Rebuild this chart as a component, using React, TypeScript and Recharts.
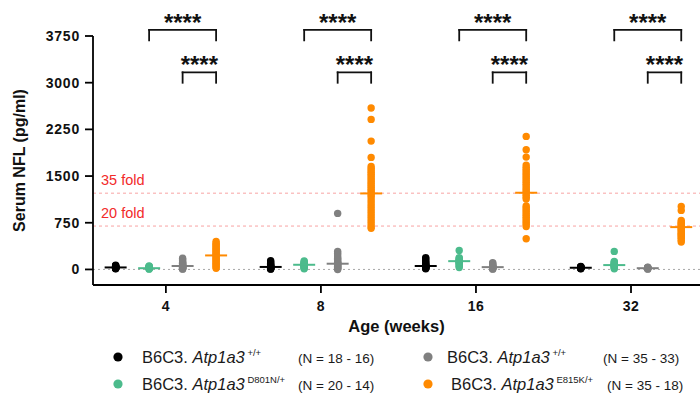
import React from 'react';
import { ComposedChart, Scatter, XAxis, YAxis, ReferenceLine, ReferenceDot, Legend } from 'recharts';

// ---------- data ----------
const AGES = ['4', '8', '16', '32'];
const Y_TICKS = [0, 750, 1500, 2250, 3000, 3750];

// values per age (4, 8, 16, 32 weeks)
const WT_D801N_VALUES = [
  [10, 15, 20, 22, 25, 28, 30, 32, 35, 38, 40, 45, 50, 55, 60, 70],
  [5, 10, 15, 20, 25, 30, 35, 40, 45, 50, 60, 70, 85, 100, 120, 140],
  [10, 20, 25, 30, 35, 40, 45, 50, 55, 60, 70, 80, 95, 110, 130, 150, 170, 190],
  [10, 15, 20, 22, 25, 28, 30, 32, 35, 40, 45, 50],
];
const D801N_VALUES = [
  [5, 10, 15, 18, 20, 22, 25, 28, 30, 35, 40, 45, 50, 55],
  [10, 20, 30, 40, 50, 60, 65, 70, 75, 80, 90, 100, 110, 120, 135],
  [30, 50, 70, 85, 100, 110, 120, 130, 140, 150, 160, 175, 190, 305],
  [10, 25, 40, 50, 60, 65, 70, 75, 85, 100, 115, 130, 290],
];
const WT_E815K_VALUES = [
  [5, 10, 15, 20, 25, 30, 35, 40, 45, 50, 55, 60, 65, 70, 80, 90, 100, 110, 120, 140, 160, 180],
  [0, 10, 20, 30, 40, 50, 60, 70, 80, 90, 95, 100, 110, 120, 140, 160, 180, 200, 230, 260, 290, 900],
  [5, 10, 15, 20, 25, 30, 35, 40, 45, 50, 60, 70, 80, 95, 110],
  [5, 10, 15, 18, 20, 22, 25, 28, 30, 35],
];
const E815K_VALUES = [
  [20, 40, 60, 80, 100, 120, 140, 160, 180, 200, 220, 240, 260, 280, 300, 320, 340, 360, 380, 400, 420, 450],
  [2593, 2410, 2062, 1800, 1655, 1620, 1590, 1560, 1530, 1500, 1470, 1440, 1410, 1380, 1350, 1320, 1290, 1260,
    1230, 1200, 1170, 1130, 1090, 1050, 1010, 970, 930, 890, 850, 810, 770, 730, 690, 660],
  [2137, 1923, 1805, 1676, 1640, 1610, 1580, 1550, 1520, 1490, 1460, 1430, 1400, 1370, 1340, 1310, 1280, 1250,
    1220, 1190, 1160, 1130, 1018, 990, 960, 930, 900, 870, 840, 810, 780, 750, 720, 690, 493],
  [1012, 948, 787, 760, 740, 720, 700, 680, 660, 640, 620, 600, 580, 560, 540, 520, 500, 470, 440],
];

const WT_D801N_CENTER = [32, 40, 55, 27];
const D801N_CENTER = [20, 75, 133, 70];
const WT_E815K_CENTER = [55, 92, 37, 20];
const E815K_CENTER = [225, 1221, 1232, 680];

const GROUP_VALUES = [WT_D801N_VALUES, D801N_VALUES, WT_E815K_VALUES, E815K_VALUES];
const GROUP_CENTERS = [WT_D801N_CENTER, D801N_CENTER, WT_E815K_CENTER, E815K_CENTER];

const LEGEND_GENOTYPES = ['+/+', 'D801N/+', '+/+', 'E815K/+'];
const LEGEND_N = ['(N = 18 - 16)', '(N = 20 - 14)', '(N = 35 - 33)', '(N = 35 - 18)'];

const FOLD_VALUES = [1225, 697];
const FOLD_LABELS = ['35 fold', '20 fold'];

const SIGNIFICANCE = '****';
// brackets: from group index -> to group index, top and leg-end values
const BRACKET_FROM = [1, 2];
const BRACKET_TO = [3, 3];
const BRACKET_TOP = [3847, 3166];
const BRACKET_LEG = [3680, 2999];

// ---------- styles ----------
const COLORS = ['#000000', '#4cbb8c', '#808080', '#ff8a00'];
const GROUP_OFFSETS = [-0.324, -0.108, 0.108, 0.324];
const FONT = '"Liberation Sans", Arial, Helvetica, sans-serif';
const RED = '#f22a2a';
const RED_LINE = '#f8a3a3';

const buildPoints = (g: number) => {
  const out: { x: number; y: number }[] = [];
  GROUP_VALUES[g].forEach((vals, i) => {
    vals.forEach((v) => out.push({ x: i + GROUP_OFFSETS[g], y: v }));
  });
  return out;
};
const buildCenters = (g: number) =>
  GROUP_CENTERS[g].map((v, i) => ({ x: i + GROUP_OFFSETS[g], y: v }));

const dotShape = (color: string) => (p: any) =>
  <circle cx={p.cx} cy={p.cy} r={3.7} fill={color} stroke="none" />;
const barShape = (color: string) => (p: any) =>
  <line x1={p.cx - 11} x2={p.cx + 11} y1={p.cy} y2={p.cy} stroke={color} strokeWidth={2} />;

const starsLabel = (p: any) => {
  const vb = p.viewBox || {};
  return (
    <text x={vb.x + (vb.width || 0) / 2} y={vb.y + (vb.height || 0) / 2 + 1} textAnchor="middle"
      fontFamily={FONT} fontSize={24} fontWeight="bold" fill="#111">{SIGNIFICANCE}</text>
  );
};

const yLabel = (p: any) => {
  const vb = p.viewBox || {};
  const cx = vb.x + 19;
  const cy = vb.y + vb.height / 2;
  return (
    <text transform={`translate(${cx},${cy}) rotate(-90)`} textAnchor="middle" dominantBaseline="central"
      fontFamily={FONT} fontSize={16} fontWeight="bold" fill="#111">Serum NFL (pg/ml)</text>
  );
};

const renderLegend = () => (
  <svg width={700} height={54} style={{ display: 'block' }}>
    {LEGEND_GENOTYPES.map((gt, k) => {
      const col = Math.floor(k / 2);
      const row = k % 2;
      const cy = 17 + row * 27;
      const base = cy + 5.5;
      const dotX = [118, 428][col];
      const textX = [142, 447 + row * 4][col];
      const nX = [298, 603 + row * 4][col];
      return (
        <g key={k}>
          <circle cx={dotX} cy={cy} r={4.6} fill={COLORS[k]} />
          <text x={textX} y={base} fontFamily={FONT} fontSize={16.5} fill="#1a1a1a">
            <tspan>B6C3. </tspan>
            <tspan fontStyle="italic">Atp1a3</tspan>
            <tspan fontSize={9.5} dy={-7}>{' ' + gt}</tspan>
          </text>
          <text x={nX} y={base} fontFamily={FONT} fontSize={13.5} fill="#1a1a1a">{LEGEND_N[k]}</text>
        </g>
      );
    })}
  </svg>
);

export default function App() {
  const brackets: React.ReactNode[] = [];
  AGES.forEach((_, i) => {
    BRACKET_FROM.forEach((from, j) => {
      const x1 = i + GROUP_OFFSETS[from];
      const x2 = i + GROUP_OFFSETS[BRACKET_TO[j]];
      const top = BRACKET_TOP[j];
      const leg = BRACKET_LEG[j];
      const common = { stroke: '#111', strokeWidth: 1.8, ifOverflow: 'visible' as const, strokeLinecap: 'square' as const };
      brackets.push(<ReferenceLine key={`bl${i}${j}`} segment={[{ x: x1, y: leg }, { x: x1, y: top }]} {...common} />);
      brackets.push(<ReferenceLine key={`bt${i}${j}`} segment={[{ x: x1, y: top }, { x: x2, y: top }]} {...common} />);
      brackets.push(<ReferenceLine key={`br${i}${j}`} segment={[{ x: x2, y: top }, { x: x2, y: leg }]} {...common} />);
      brackets.push(
        <ReferenceDot key={`bs${i}${j}`} x={(x1 + x2) / 2} y={top} r={0} fill="none" stroke="none"
          ifOverflow="visible" label={starsLabel} />
      );
    });
  });

  return (
    <div style={{ position: 'absolute', left: 0, top: 0, width: 700, height: 394, background: '#fff' }}>
      <ComposedChart width={700} height={394} margin={{ top: 36, right: 0, bottom: 79, left: 0 }}>
        <XAxis dataKey="x" type="number" domain={[-0.47, 3.445]} allowDataOverflow ticks={[0, 1, 2, 3]}
          tickFormatter={(v: number) => AGES[v]} height={30} tickSize={8} tickMargin={8}
          axisLine={{ stroke: '#000', strokeWidth: 1.8 }} tickLine={{ stroke: '#000', strokeWidth: 1.8 }}
          tick={{ fontFamily: FONT, fontSize: 14, fontWeight: 'bold', fill: '#111', letterSpacing: 0.5 }}
          label={{ value: 'Age (weeks)', position: 'bottom', offset: 5, fontFamily: FONT, fontSize: 16.5, fontWeight: 'bold', fill: '#111' }}
        />
        <YAxis dataKey="y" type="number" domain={[-250, 3750]} allowDataOverflow ticks={Y_TICKS} width={93}
          tickSize={8} tickMargin={5} interval={0}
          axisLine={{ stroke: '#000', strokeWidth: 1.8 }} tickLine={{ stroke: '#000', strokeWidth: 1.8 }}
          tick={{ fontFamily: FONT, fontSize: 14, fontWeight: 'bold', fill: '#111', letterSpacing: 0.8 }}
          label={yLabel}
        />
        <ReferenceLine y={0} stroke="#a8a8a8" strokeDasharray="2 3" strokeWidth={1} />
        {FOLD_VALUES.map((v, k) => (
          <ReferenceLine key={`f${k}`} y={v} stroke={RED_LINE} strokeDasharray="3 3" strokeWidth={1}
            label={{ value: FOLD_LABELS[k], position: 'insideBottomLeft', offset: 8, fill: RED, fontFamily: FONT, fontSize: 14.5 }} />
        ))}
        {COLORS.map((c, g) => (
          <Scatter key={`p${g}`} data={buildPoints(g)} fill={c} shape={dotShape(c)} isAnimationActive={false} />
        ))}
        {COLORS.map((c, g) => (
          <Scatter key={`m${g}`} data={buildCenters(g)} fill={c} shape={barShape(c)} isAnimationActive={false} />
        ))}
        {brackets}
        <Legend layout="vertical" align="center" verticalAlign="middle" content={renderLegend}
          wrapperStyle={{ left: 0, top: 340, width: 700, height: 54 }} />
      </ComposedChart>
    </div>
  );
}
